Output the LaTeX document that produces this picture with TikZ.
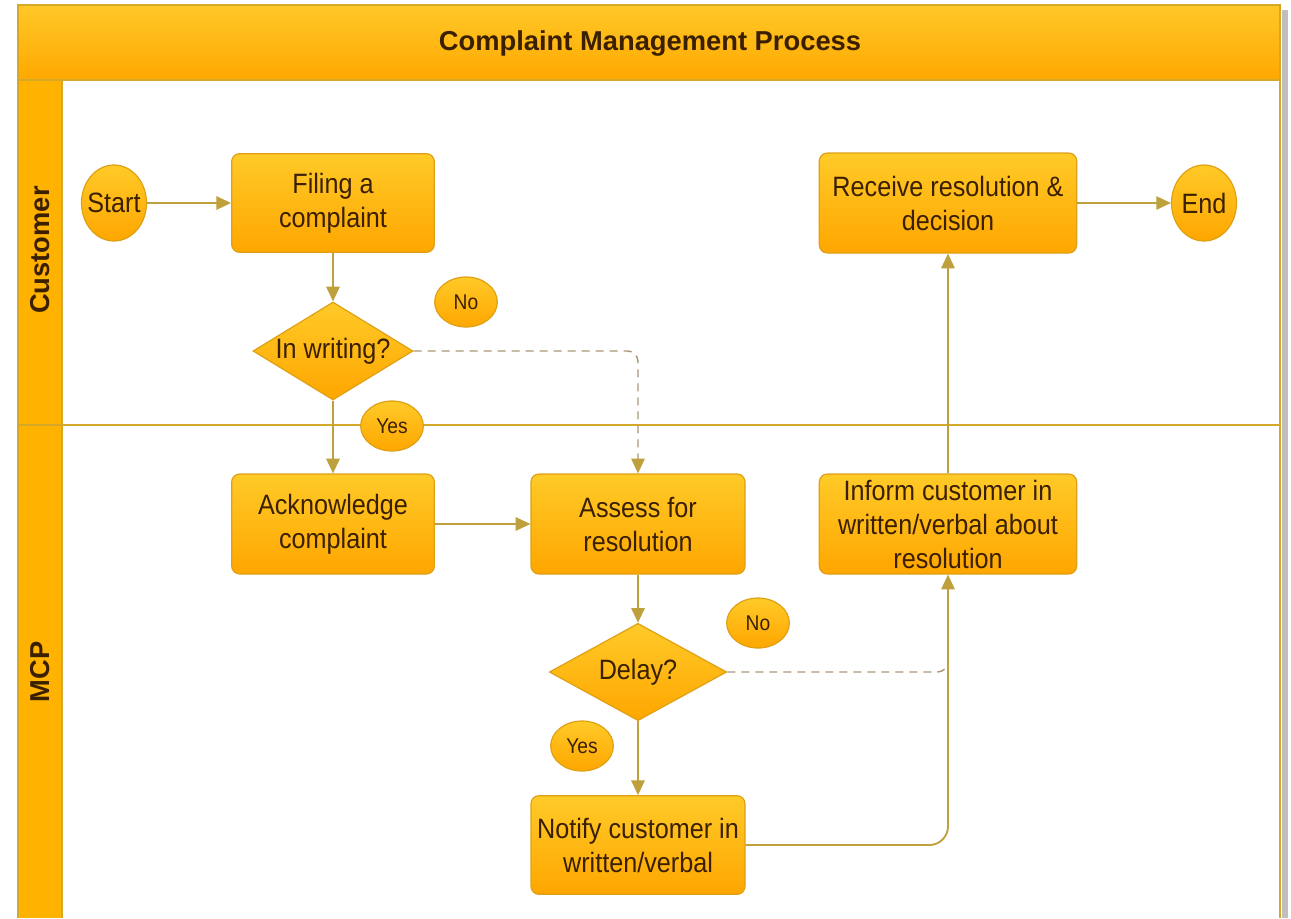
\documentclass[tikz,border=0pt]{standalone}
\usepackage{fontspec}
\setmainfont{Liberation Sans}
\newfontfamily\narrowfont{Liberation Sans}[FakeStretch=0.9]
\usetikzlibrary{arrows.meta,shapes.geometric,calc}

\definecolor{framegold}{RGB}{214,168,40}
\definecolor{titletop}{RGB}{255,200,40}
\definecolor{titlebottom}{RGB}{255,168,0}
\definecolor{lanefill}{RGB}{255,178,0}
\definecolor{boxtop}{RGB}{255,202,40}
\definecolor{boxbottom}{RGB}{255,166,0}
\definecolor{boxedge}{RGB}{222,160,20}
\definecolor{inktext}{RGB}{58,32,0}
\definecolor{connline}{RGB}{190,160,60}
\definecolor{dashgrey}{RGB}{170,150,120}

\tikzset{
  procbox/.style={rectangle, rounded corners=6pt, draw=boxedge, line width=0.9pt,
    top color=boxtop, bottom color=boxbottom, text=inktext, align=center, inner sep=0pt,
    font=\narrowfont\fontsize{21}{25.5}\selectfont},
  decision/.style={procbox, diamond, rounded corners=0pt},
  terminal/.style={procbox, ellipse, rounded corners=0pt},
  answer/.style={procbox, ellipse, rounded corners=0pt, minimum width=47pt, minimum height=37.5pt,
    font=\narrowfont\fontsize{16}{19}\selectfont},
  lanetext/.style={text=inktext, font=\bfseries\fontsize{20.5}{24}\selectfont},
  tip/.style={-{Triangle[length=11pt,width=10pt,color=connline]}},
  conn/.style={draw=connline, line width=1.4pt, tip},
  dashconn/.style={draw=dashgrey, line width=1.1pt, dash pattern=on 6pt off 4.5pt, rounded corners=8pt}
}

\begin{document}
\begin{tikzpicture}[x=0.75pt,y=0.75pt,yscale=-1,xscale=1]
\useasboundingbox (0,0) rectangle (1291,918);

% Pool frame
\fill[black!25] (1282,10) rectangle (1288,918);
\fill[white] (18,5) rectangle (1280,918);
\shade[top color=titletop, bottom color=titlebottom] (18,5) rectangle (1280,80);
\fill[lanefill] (18,80) rectangle (62,918);
\draw[framegold, line width=1.2pt] (18,918) -- (18,5) -- (1280,5) -- (1280,918);
\draw[framegold, line width=1.2pt] (18,80) -- (1280,80);
\draw[framegold, line width=1.2pt] (62,80) -- (62,918);
\draw[framegold, line width=1.2pt] (18,425) -- (1280,425);

% Text Node
\node[lanetext] (title) at (650,43) {Complaint Management Process};
% Text Node
\node[lanetext, rotate=90] (custlane) at (40,250) {Customer};
% Text Node
\node[lanetext, rotate=90] (mcplane) at (40,672) {MCP};

% Customer lane
\node[terminal, minimum width=48.75pt, minimum height=57pt] (start) at (114,203) {\makebox[0pt]{Start}};
\node[procbox, minimum width=152pt, minimum height=74pt] (filing) at (333,203) {Filing a\\complaint};
\node[decision, minimum width=120pt, minimum height=73.5pt] (writing) at (333,351) {\makebox[0pt]{In writing?}};
\node[procbox, minimum width=193pt, minimum height=75pt] (receive) at (948,203) {Receive resolution \&\\decision};
\node[terminal, minimum width=48.75pt, minimum height=57pt] (finish) at (1204,203) {\makebox[0pt]{End}};

% MCP lane
\node[procbox, minimum width=152pt, minimum height=75pt] (ack) at (333,524) {Acknowledge\\complaint};
\node[procbox, minimum width=160.5pt, minimum height=75pt] (assess) at (638,524) {Assess for\\resolution};
\node[decision, minimum width=133pt, minimum height=73pt] (delay) at (638,672) {\makebox[0pt]{Delay?}};
\node[procbox, minimum width=160.5pt, minimum height=74pt] (notify) at (638,845) {Notify customer in\\written/verbal};
\node[procbox, minimum width=193pt, minimum height=75pt] (inform) at (948,524) {Inform customer in\\written/verbal about\\resolution};

% Connectors
\draw[conn] (start) -- (filing);
\draw[conn] (filing) -- (writing);
\draw[conn] (writing) -- (ack);
\draw[dashconn, tip] (writing.east) -| (assess.north);
\draw[conn] (ack) -- (assess);
\draw[conn] (assess) -- (delay);
\draw[conn] (delay) -- (notify);
\draw[dashconn] (delay.east) -| ($(delay.east -| inform.south)+(0,-10)$);
\draw[conn, rounded corners=14pt] (notify.east) -| (inform.south);
\draw[conn] (inform) -- (receive);
\draw[conn] (receive) -- (finish);

% Answer labels
\node[answer] (nowriting) at (466,302) {No};
\node[answer] (yeswriting) at (392,426) {Yes};
\node[answer] (nodelay) at (758,623) {No};
\node[answer] (yesdelay) at (582,746) {Yes};

\end{tikzpicture}
\end{document}
